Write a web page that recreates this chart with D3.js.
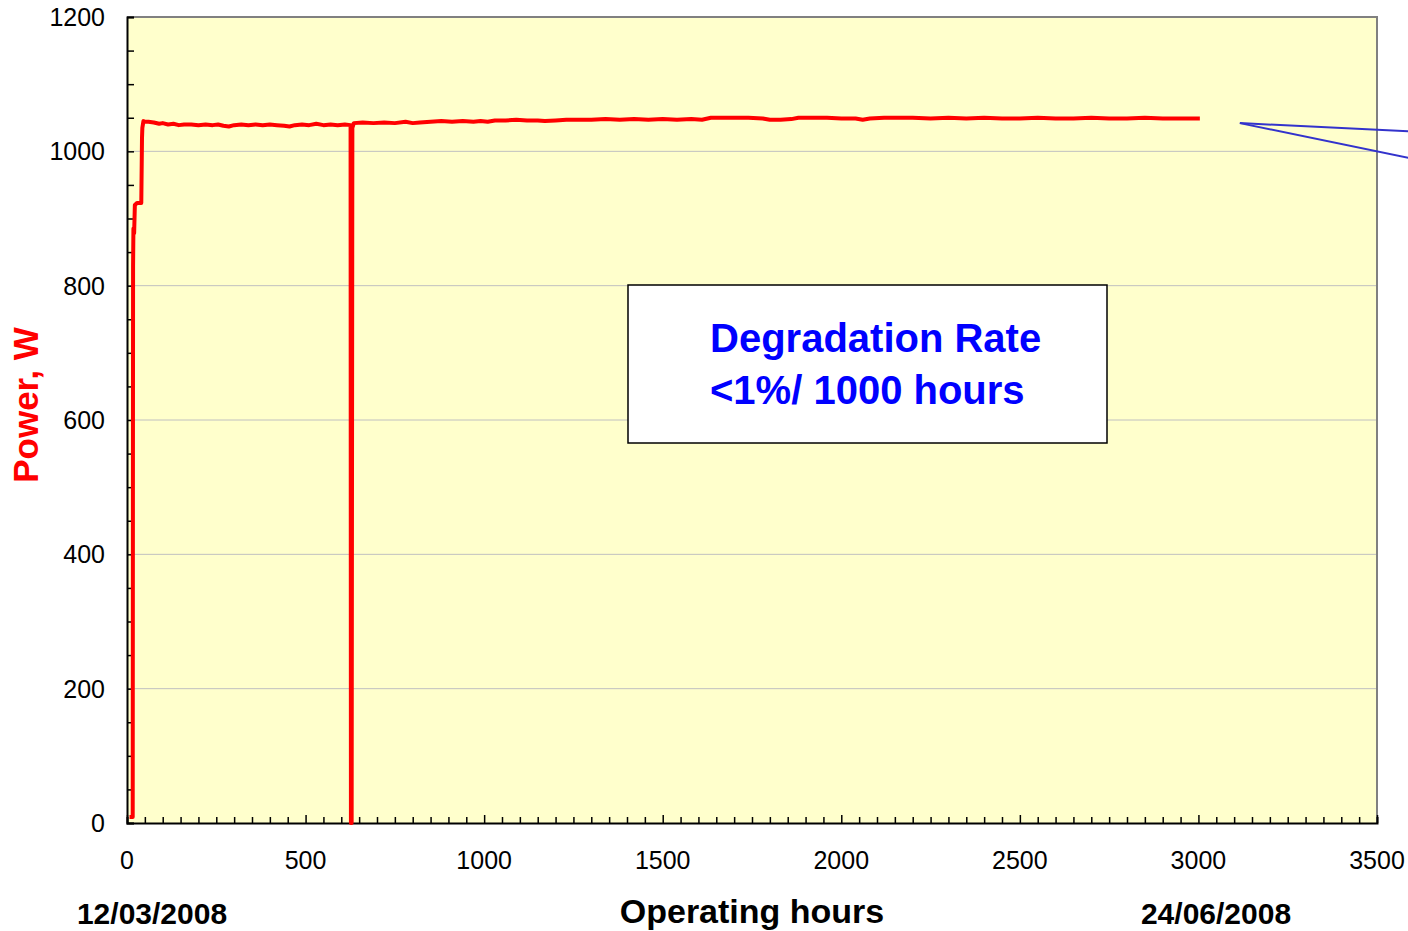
<!DOCTYPE html>
<html>
<head>
<meta charset="utf-8">
<script src="https://cdnjs.cloudflare.com/ajax/libs/d3/7.8.5/d3.min.js"></script>
<style>
	body { margin: 0; background: white; }
	text { font-family: Arial, "Liberation Sans", sans-serif; }
</style>
</head>
<body>
<div id="chart"></div>
<script>
// operating hours vs stack power
var hours = [7, 16, 17, 18, 20, 22, 28, 40, 42, 43, 46, 50, 60, 75, 90, 100, 115, 130, 145, 160, 180, 200, 220, 240, 255, 270, 285, 300, 320, 340, 360, 380, 400, 420, 440, 455, 470, 490, 510, 530, 550, 570, 590, 610, 626, 627, 629, 631, 635, 660, 690, 720, 750, 780, 800, 820, 850, 880, 910, 940, 970, 990, 1010, 1030, 1060, 1090, 1120, 1150, 1170, 1200, 1230, 1260, 1300, 1340, 1380, 1420, 1460, 1500, 1540, 1580, 1610, 1635, 1660, 1700, 1740, 1780, 1800, 1830, 1860, 1880, 1920, 1960, 2000, 2040, 2060, 2080, 2120, 2160, 2200, 2250, 2300, 2350, 2400, 2450, 2500, 2550, 2600, 2650, 2700, 2750, 2800, 2850, 2900, 2950, 3004];
var power = [9, 9, 830, 885, 878, 920, 923, 923, 1020, 1035, 1045, 1044, 1044, 1043, 1041, 1042, 1040, 1041, 1039, 1040, 1040, 1039, 1040, 1039, 1040, 1038, 1037, 1039, 1040, 1039, 1040, 1039, 1040, 1039, 1038, 1037, 1039, 1040, 1039, 1041, 1039, 1040, 1039, 1040, 1039, 0, 0, 1035, 1042, 1043, 1042, 1043, 1042, 1044, 1042, 1043, 1044, 1045, 1044, 1045, 1044, 1045, 1044, 1046, 1046, 1047, 1046, 1046, 1045, 1046, 1047, 1047, 1047, 1048, 1047, 1048, 1047, 1048, 1047, 1048, 1047, 1050, 1050, 1050, 1050, 1049, 1047, 1047, 1048, 1050, 1050, 1050, 1049, 1049, 1047, 1049, 1050, 1050, 1050, 1049, 1050, 1049, 1050, 1049, 1049, 1050, 1049, 1049, 1050, 1049, 1049, 1050, 1049, 1049, 1049];

var xTicks = [0, 500, 1000, 1500, 2000, 2500, 3000, 3500];
var yTicks = [0, 200, 400, 600, 800, 1000, 1200];
var noteText = ['Degradation Rate', '<1%/ 1000 hours'];
var dateLabels = ['12/03/2008', '24/06/2008'];
// blue pointer lines leaving the chart to the right
var pointerHours = [3116, 3590];
var pointerPower = [1042, 1030, 990];

var width = 1408, height = 931;
var margin = {left: 127, right: 31, top: 17, bottom: 108};

var svg = d3.select('#chart').append('svg')
	.attr('width', width)
	.attr('height', height);

var x = d3.scaleLinear().domain([0, 3500]).range([margin.left, width - margin.right]);
var y = d3.scaleLinear().domain([0, 1200]).range([height - margin.bottom, margin.top]);

svg.append('rect')
	.attr('x', x(0))
	.attr('y', y(1200))
	.attr('width', x(3500) - x(0))
	.attr('height', y(0) - y(1200))
	.attr('fill', '#FFFFCC');

// horizontal gridlines
svg.append('g')
	.selectAll('line')
	.data(yTicks.filter(function(d) { return d > 0 && d < 1200; }))
	.join('line')
	.attr('x1', x(0))
	.attr('x2', x(3500))
	.attr('y1', function(d) { return y(d); })
	.attr('y2', function(d) { return y(d); })
	.attr('stroke', '#C0C0C0')
	.attr('stroke-width', 1);

// frame: top and right grey
svg.append('path')
	.attr('d', 'M' + x(0) + ',' + y(1200) + 'H' + x(3500) + 'V' + y(0))
	.attr('fill', 'none')
	.attr('stroke', '#808080')
	.attr('stroke-width', 2);

// axes with inward minor ticks
var xAxis = svg.append('g')
	.attr('transform', 'translate(0,' + y(0) + ')')
	.call(d3.axisTop(x).tickValues(d3.range(0, 3501, 50)).tickSize(6).tickFormat(''));
xAxis.selectAll('.tick line')
	.attr('stroke-width', 1.5)
	.attr('y2', function(d) { return d % 500 === 0 ? -8 : -6; });
xAxis.select('.domain').attr('stroke-width', 2);

var yAxis = svg.append('g')
	.attr('transform', 'translate(' + x(0) + ',0)')
	.call(d3.axisRight(y).tickValues(d3.range(0, 1201, 50)).tickSize(7).tickFormat(''));
yAxis.selectAll('.tick line').attr('stroke-width', 1.5);
yAxis.select('.domain').attr('stroke-width', 2);

svg.append('g')
	.selectAll('text')
	.data(xTicks)
	.join('text')
	.attr('x', function(d) { return x(d); })
	.attr('y', y(0) + 46)
	.attr('text-anchor', 'middle')
	.attr('font-size', 25)
	.text(function(d) { return d; });

svg.append('g')
	.selectAll('text')
	.data(yTicks)
	.join('text')
	.attr('x', x(0) - 22)
	.attr('y', function(d) { return y(d) + 9; })
	.attr('text-anchor', 'end')
	.attr('font-size', 25)
	.text(function(d) { return d; });

// power trace
var series = hours.map(function(h, i) { return [h, power[i]]; });
svg.append('path')
	.datum(series)
	.attr('d', d3.line().x(function(d) { return x(d[0]); }).y(function(d) { return y(d[1]); }))
	.attr('fill', 'none')
	.attr('stroke', '#FF0000')
	.attr('stroke-width', 4)
	.attr('stroke-linejoin', 'round');

pointerPower.slice(1).forEach(function(p) {
	svg.append('line')
		.attr('x1', x(pointerHours[0]))
		.attr('y1', y(pointerPower[0]))
		.attr('x2', x(pointerHours[1]))
		.attr('y2', y(p))
		.attr('stroke', '#3333CC')
		.attr('stroke-width', 2);
});

// annotation box
svg.append('rect')
	.attr('x', 628)
	.attr('y', 285)
	.attr('width', 479)
	.attr('height', 158)
	.attr('fill', 'white')
	.attr('stroke', 'black')
	.attr('stroke-width', 1.5);

svg.append('g')
	.selectAll('text')
	.data(noteText)
	.join('text')
	.attr('x', 710)
	.attr('y', function(d, i) { return 352 + i * 52; })
	.attr('font-size', 40)
	.attr('font-weight', 'bold')
	.attr('fill', '#0000FF')
	.text(function(d) { return d; });

svg.append('text')
	.attr('transform', 'translate(38,405) rotate(-90)')
	.attr('text-anchor', 'middle')
	.attr('font-size', 35)
	.attr('font-weight', 'bold')
	.attr('fill', '#FF0000')
	.text('Power, W');

svg.append('text')
	.attr('x', 752)
	.attr('y', 923)
	.attr('text-anchor', 'middle')
	.attr('font-size', 34)
	.attr('font-weight', 'bold')
	.text('Operating hours');

svg.append('g')
	.selectAll('text')
	.data(dateLabels)
	.join('text')
	.attr('x', function(d, i) { return i === 0 ? 152 : 1216; })
	.attr('y', 924)
	.attr('text-anchor', 'middle')
	.attr('font-size', 30)
	.attr('font-weight', 'bold')
	.text(function(d) { return d; });
</script>
</body>
</html>
